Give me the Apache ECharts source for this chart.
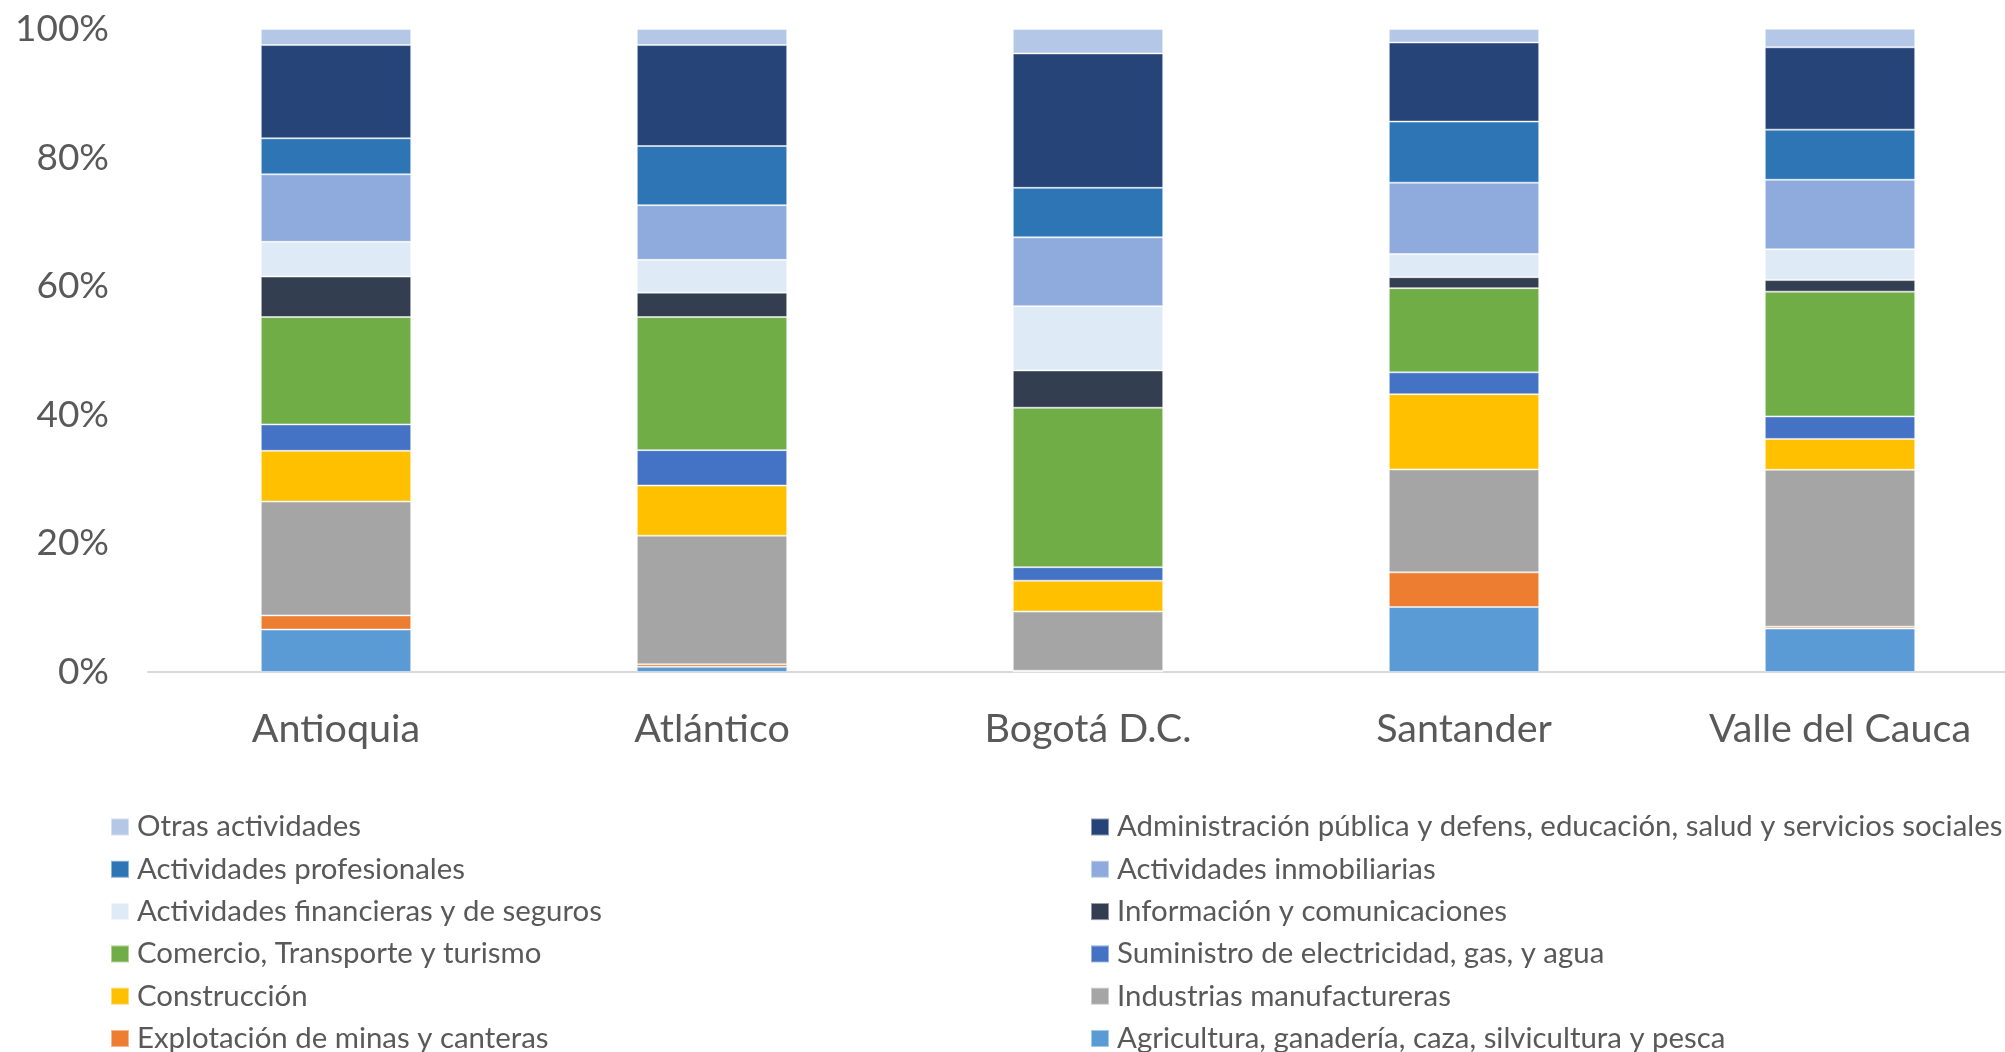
<!DOCTYPE html>
<html>
<head>
<meta charset="utf-8">
<script src="https://cdn.jsdelivr.net/npm/echarts@6/dist/echarts.min.js"></script>
<style>
html,body{margin:0;padding:0;background:#fff;overflow:hidden;}
#c{width:2030px;height:1052px;}
</style>
</head>
<body>
<div id="c"></div>
<script>
const categories = ['Antioquia', 'Atlántico', 'Bogotá D.C.', 'Santander', 'Valle del Cauca'];
const yTickLabels = ['0%', '20%', '40%', '60%', '80%', '100%'];

const agricultura = [6.6, 0.8, 0.1, 10.1, 6.75];
const minas = [2.2, 0.4, 0.1, 5.4, 0.3];
const manufactureras = [17.7, 20.0, 9.2, 16.0, 24.4];
const construccion = [7.9, 7.8, 4.8, 11.7, 4.8];
const electricidad = [4.1, 5.5, 2.1, 3.4, 3.5];
const comercio = [16.7, 20.7, 24.8, 13.1, 19.4];
const informacion = [6.3, 3.8, 5.8, 1.7, 1.8];
const financieras = [5.4, 5.1, 10.0, 3.6, 4.8];
const inmobiliarias = [10.5, 8.5, 10.7, 11.1, 10.8];
const profesionales = [5.6, 9.2, 7.7, 9.5, 7.8];
const administracion = [14.5, 15.7, 20.9, 12.3, 12.8];
const otras = [2.5, 2.5, 3.8, 2.1, 2.9];

const seriesNames = [
  'Agricultura, ganadería, caza, silvicultura y pesca',
  'Explotación de minas y canteras',
  'Industrias manufactureras',
  'Construcción',
  'Suministro de electricidad, gas, y agua',
  'Comercio, Transporte y turismo',
  'Información y comunicaciones',
  'Actividades financieras y de seguros',
  'Actividades inmobiliarias',
  'Actividades profesionales',
  'Administración pública y defens, educación, salud y servicios sociales',
  'Otras actividades'
];
const seriesValues = [agricultura, minas, manufactureras, construccion, electricidad, comercio,
  informacion, financieras, inmobiliarias, profesionales, administracion, otras];
const seriesColors = ['#5B9BD5', '#ED7D31', '#A5A5A5', '#FFC000', '#4472C4', '#70AD47',
  '#333F50', '#DEEBF7', '#8FAADC', '#2E75B6', '#264478', '#B4C7E7'];

const legendLeft = [seriesNames[11], seriesNames[9], seriesNames[7], seriesNames[5], seriesNames[3], seriesNames[1]];
const legendRight = [seriesNames[10], seriesNames[8], seriesNames[6], seriesNames[4], seriesNames[2], seriesNames[0]];

const FONT = 'Lato';
const TXT = '#595959';

const chart = echarts.init(document.getElementById('c'), null, {renderer: 'canvas'});

const legendCommon = {
  orient: 'vertical',
  top: 811,
  height: 400,
  padding: 0,
  itemWidth: 18,
  itemHeight: 17,
  itemGap: 10.3,
  icon: 'rect',
  selectedMode: false,
  textStyle: {fontFamily: FONT, fontSize: 29.4, color: TXT, lineHeight: 32, padding: [0, 0, 0, 3]}
};

chart.setOption({
  animation: false,
  backgroundColor: '#ffffff',
  grid: {left: 148, top: 29, width: 1880, bottom: 380, containLabel: false},
  legend: [
    Object.assign({}, legendCommon, {left: 110, data: legendLeft}),
    Object.assign({}, legendCommon, {left: 1090, data: legendRight})
  ],
  xAxis: {
    type: 'category',
    data: categories,
    axisLine: {show: true, lineStyle: {color: '#D9D9D9', width: 2}},
    axisTick: {show: false},
    axisLabel: {fontFamily: FONT, fontSize: 39.5, color: TXT, margin: 37}
  },
  yAxis: {
    type: 'value',
    min: 0,
    max: 100,
    interval: 20,
    axisLine: {show: false},
    axisTick: {show: false},
    splitLine: {show: false},
    axisLabel: {
      fontFamily: FONT, fontSize: 37, color: TXT, margin: 39,
      formatter: function (v) { return yTickLabels[Math.round(v / 20)]; }
    }
  },
  series: seriesNames.map(function (name, i) {
    return {
      name: name,
      type: 'bar',
      stack: 'total',
      barWidth: '40%',
      data: seriesValues[i],
      itemStyle: {color: seriesColors[i], borderColor: 'rgba(255,255,255,0.45)', borderWidth: 1}
    };
  })
});
</script>
</body>
</html>
